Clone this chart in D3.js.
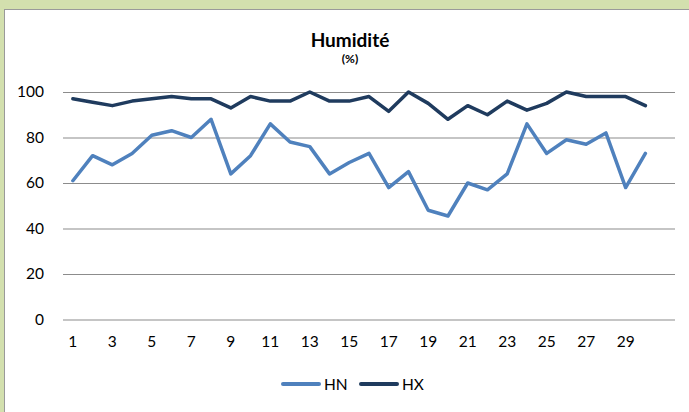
<!DOCTYPE html>
<html lang="fr">
    <head>
        <meta charset="utf-8">
        <title>Humidité</title>
        <script type="text/javascript" src="https://cdn.jsdelivr.net/npm/d3@7"></script>
        <style>
            body { margin: 0; background: #d3e0ae; }
            svg { display: block; }
        </style>
    </head>
    <body>
        <script type="text/javascript">

        var w = 689;
        var h = 412;

        // jours du mois (31 cases, la derniere vide)
        var days = ["1","2","3","4","5","6","7","8","9","10","11","12","13","14","15",
                    "16","17","18","19","20","21","22","23","24","25","26","27","28","29","30","31"];
        var dayLabels = ["1","3","5","7","9","11","13","15","17","19","21","23","25","27","29"];
        var yTicks = [0, 20, 40, 60, 80, 100];

        var hn = [61, 72, 68, 73, 81, 83, 80, 88, 64, 72, 86, 78, 76, 64, 69,
                  73, 58, 65, 48, 45.5, 60, 57, 64, 86, 73, 79, 77, 82, 58, 73];
        var hx = [97, 95.5, 94, 96, 97, 98, 97, 97, 93, 98, 96, 96, 100, 96, 96,
                  98, 91.5, 100, 95, 88, 94, 90, 96, 92, 95, 100, 98, 98, 98, 94];

        var series = [
            { name: "HN", values: hn, color: "#4f81bd" },
            { name: "HX", values: hx, color: "#1f3b5e" }
        ];

        var plot = { left: 63, right: 675, top: 92, bottom: 319.5 };

        var svg = d3.select("body")
            .append("svg")
            .attr("width", w)
            .attr("height", h);

        // cadre du graphique
        svg.append("rect")
            .attr("x", 4.5)
            .attr("y", 9.5)
            .attr("width", w + 10)
            .attr("height", h + 10)
            .attr("fill", "#ffffff")
            .attr("stroke", "#9a9a9a")
            .attr("stroke-width", 1);

        var x = d3.scaleBand()
            .domain(days)
            .range([plot.left, plot.right])
            .padding(0);

        var y = d3.scaleLinear()
            .domain([0, 100])
            .range([plot.bottom, plot.top]);

        // grille horizontale
        svg.append("g")
            .attr("transform", "translate(" + plot.left + ",0)")
            .call(d3.axisLeft(y)
                .tickValues(yTicks)
                .tickSize(-(plot.right - plot.left))
                .tickPadding(19)
                .tickFormat(d3.format("d")))
            .call(function(g) { g.select(".domain").remove(); })
            .call(function(g) {
                g.selectAll(".tick line")
                    .attr("stroke", "#8c8c8c")
                    .attr("stroke-width", 1.1);
                g.selectAll(".tick text")
                    .attr("fill", "#000")
                    .attr("font-family", "Lato, 'Open Sans', sans-serif")
                    .attr("font-size", "15.5px");
            });

        // axe des jours
        svg.append("g")
            .attr("transform", "translate(0," + plot.bottom + ")")
            .call(d3.axisBottom(x)
                .tickValues(dayLabels)
                .tickSize(0)
                .tickPadding(16))
            .call(function(g) { g.select(".domain").remove(); })
            .call(function(g) {
                g.selectAll(".tick text")
                    .attr("fill", "#000")
                    .attr("font-family", "Lato, 'Open Sans', sans-serif")
                    .attr("font-size", "15.5px");
            });

        var line = d3.line()
            .x(function(d, i) { return x(days[i]) + x.bandwidth() / 2; })
            .y(function(d) { return y(d); });

        svg.selectAll("path.serie")
            .data(series)
            .enter()
            .append("path")
            .attr("class", "serie")
            .attr("d", function(d) { return line(d.values); })
            .attr("fill", "none")
            .attr("stroke", function(d) { return d.color; })
            .attr("stroke-width", 3.5)
            .attr("stroke-linejoin", "round")
            .attr("stroke-linecap", "round");

        // titre
        svg.append("text")
            .attr("x", 350)
            .attr("y", 47)
            .attr("text-anchor", "middle")
            .attr("font-family", "Lato, 'Open Sans', sans-serif")
            .attr("font-weight", "bold")
            .attr("font-size", "19px")
            .text("Humidité");

        svg.append("text")
            .attr("x", 350)
            .attr("y", 63)
            .attr("text-anchor", "middle")
            .attr("font-family", "Lato, 'Open Sans', sans-serif")
            .attr("font-weight", "bold")
            .attr("font-size", "12px")
            .text("(%)");

        // legende
        var legend = svg.selectAll("g.legend")
            .data(series)
            .enter()
            .append("g")
            .attr("class", "legend")
            .attr("transform", function(d, i) {
                return "translate(" + (283 + i * 78) + ",384)";
            });

        legend.append("line")
            .attr("x1", 0)
            .attr("x2", 36)
            .attr("y1", 0)
            .attr("y2", 0)
            .attr("stroke", function(d) { return d.color; })
            .attr("stroke-width", 4)
            .attr("stroke-linecap", "round");

        legend.append("text")
            .attr("x", 41)
            .attr("y", 5.5)
            .attr("font-family", "Lato, 'Open Sans', sans-serif")
            .attr("font-size", "15.5px")
            .attr("fill", "#000")
            .text(function(d) { return d.name; });

        </script>
    </body>
</html>
